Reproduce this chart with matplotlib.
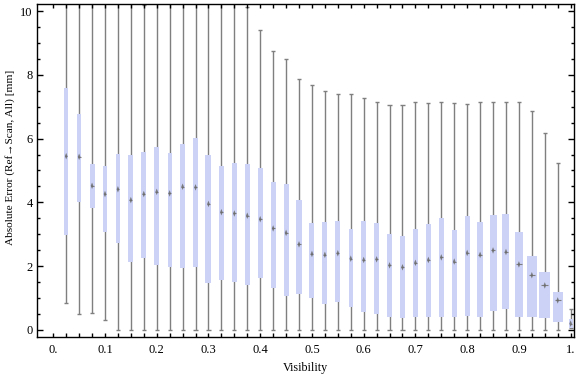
import matplotlib
matplotlib.use("Agg")
import matplotlib.pyplot as plt
import numpy as np

plt.rcParams['font.family'] = ['Liberation Serif', 'DejaVu Serif']

# box positions (visibility bins)
visibility = [0.025 * k for k in range(1, 41)]

# whisker low, lower quartile, median, upper quartile, whisker high
whisker_low = [0.83, 0.48, 0.51, 0.29, 0, 0, 0, 0, 0, 0,
               0, 0, 0, 0, 0, 0, 0, 0, 0, 0,
               0, 0, 0, 0, 0, 0, 0, 0, 0, 0,
               0, 0, 0, 0, 0, 0, 0, 0, 0, 0.05]
q1 = [2.97, 4.02, 3.83, 3.07, 2.72, 2.14, 2.25, 2.03, 1.97, 1.94,
      1.97, 1.47, 1.57, 1.51, 1.41, 1.62, 1.32, 1.07, 1.13, 0.99,
      0.82, 0.88, 0.72, 0.57, 0.50, 0.41, 0.38, 0.41, 0.41, 0.41,
      0.41, 0.44, 0.41, 0.60, 0.66, 0.41, 0.41, 0.38, 0.25, 0.05]
median = [5.45, 5.43, 4.52, 4.26, 4.41, 4.07, 4.26, 4.33, 4.28, 4.49,
          4.47, 3.95, 3.69, 3.65, 3.58, 3.47, 3.18, 3.04, 2.68, 2.38,
          2.35, 2.40, 2.23, 2.19, 2.21, 2.02, 1.96, 2.10, 2.19, 2.27,
          2.14, 2.41, 2.35, 2.49, 2.44, 2.05, 1.71, 1.39, 0.92, 0.19]
q3 = [7.58, 6.79, 5.20, 5.14, 5.52, 5.49, 5.58, 5.74, 5.55, 5.83,
      6.03, 5.49, 5.14, 5.23, 5.20, 5.08, 4.63, 4.57, 4.06, 3.35,
      3.38, 3.41, 3.16, 3.40, 3.35, 3.00, 2.94, 3.16, 3.33, 3.51,
      3.13, 3.58, 3.38, 3.60, 3.64, 3.07, 2.31, 1.81, 1.18, 0.33]
whisker_high = [13, 13, 13, 13, 13, 13, 10.2, 13, 13, 13,
                13, 13, 13, 13, 10.12, 9.40, 8.74, 8.49, 7.86, 7.70,
                7.49, 7.39, 7.39, 7.27, 7.14, 7.05, 7.05, 7.14, 7.11, 7.14,
                7.11, 7.08, 7.14, 7.14, 7.14, 7.14, 6.86, 6.17, 5.22, 0.66]
# relative box widths (grow toward high visibility)
box_width = [4.0, 4.7, 5.0, 4.0, 4.7, 5.0, 4.7, 5.0, 4.3, 5.7,
             5.7, 6.0, 5.7, 5.0, 5.3, 5.0, 5.0, 5.0, 5.3, 5.0,
             5.0, 5.0, 4.0, 4.7, 5.0, 4.3, 4.3, 4.3, 5.0, 5.0,
             5.0, 5.0, 6.0, 7.0, 7.0, 8.7, 10.0, 11.0, 10.0, 3.7]

x = np.array(visibility)
w = np.array(box_width) / 517.4
lo = np.array(q1)
hi = np.array(q3)

fig = plt.figure(figsize=(5.76, 3.77), dpi=100)
ax = fig.add_axes([0.0637, 0.1061, 0.9333, 0.8825])

gray = '#7f7f7f'
ax.vlines(x, whisker_low, whisker_high, color=gray, lw=1.0, zorder=1)
ax.hlines(whisker_low, x - 0.004, x + 0.004, color=gray, lw=1.0, zorder=1)
ax.hlines(whisker_high, x - 0.004, x + 0.004, color=gray, lw=1.0, zorder=1)
ax.bar(x, hi - lo, bottom=lo, width=w, color='#cbd2f5', edgecolor='none', zorder=2)
ax.hlines(median, x - w * 0.3, x + w * 0.3, color=gray, lw=0.8, zorder=3)
tall_diamond = [(0, -1), (0.4, 0), (0, 1), (-0.4, 0), (0, -1)]
ax.scatter(x, median, marker=tall_diamond, s=22, color='#6a6a6a', edgecolor='none',
           alpha=0.85, zorder=4)

ax.set_xlim(-0.032, 1.007)
ax.set_ylim(-0.23, 10.22)

ax.set_xticks(x.tolist() + [0.0])
xl = []
for v in x.tolist() + [0.0]:
    r = round(v * 40)
    if r % 4 == 0:
        xl.append('0.' if r == 0 else ('1.' if r == 40 else '%.1f' % v))
    else:
        xl.append('')
ax.set_xticklabels(xl)
ax.set_yticks([0, 2, 4, 6, 8, 10])
ax.set_yticks(np.arange(0, 10.3, 0.5), minor=True)

ax.tick_params(axis='x', which='both', direction='in', top=True, length=3, width=1, labelsize=9, pad=5)
ax.tick_params(axis='y', which='major', direction='in', right=True, length=4, width=1, labelsize=9, pad=3)
ax.tick_params(axis='y', which='minor', direction='in', right=True, length=2.2, width=1)
for s in ax.spines.values():
    s.set_linewidth(1.0)

ax.set_xlabel('Visibility', fontsize=8.7, labelpad=4)
ax.set_ylabel('Absolute Error (Ref\u2192Scan, All) [mm]', fontsize=8.1, labelpad=7)
ax.yaxis.set_label_coords(-0.041, 0.541)

fig.savefig('out.png', dpi=100)
